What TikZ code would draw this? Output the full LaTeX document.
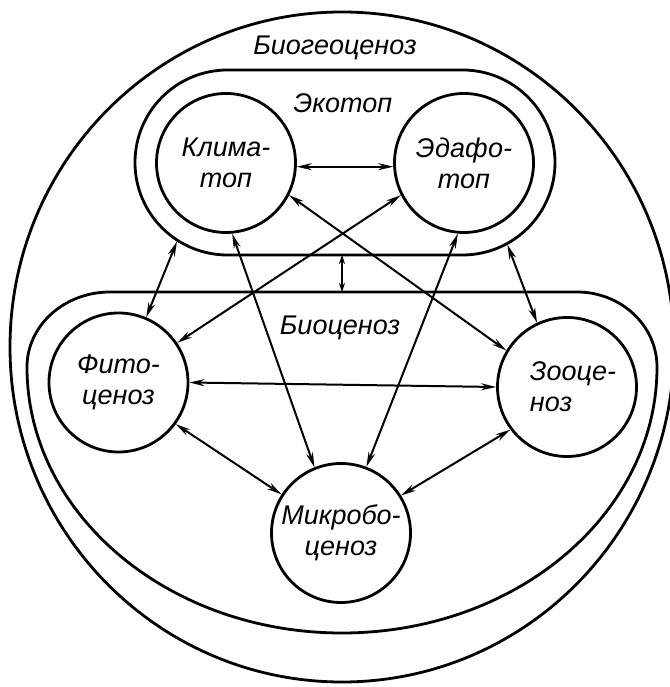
\documentclass[tikz,border=0pt]{standalone}
\usepackage{fontspec}
\setmainfont{Liberation Sans}
\usetikzlibrary{arrows.meta, calc, positioning}

\begin{document}
\begin{tikzpicture}[x=1pt, y=1pt,
    zone/.style={line width=2.8pt},
    part/.style={draw, circle, line width=2.8pt, minimum size=139pt, inner sep=0pt,
        font=\fontsize{27}{31}\selectfont\itshape, align=center},
    lbl/.style={font=\fontsize{27}{31}\selectfont\itshape},
    link/.style={line width=2pt, {Stealth[length=15pt,width=7pt]}-{Stealth[length=15pt,width=7pt]}},
    short link/.style={line width=2pt, {Stealth[length=9pt,width=6pt]}-{Stealth[length=9pt,width=6pt]}}]
    \useasboundingbox (0,0) rectangle (669,687);

    % Biogeocenosis
    \draw[zone] (342,340) ellipse [x radius=332, y radius=335];
    \node[lbl] (bgc) at (335,639) {Биогеоценоз};

    % Ecotope
    \draw[zone, rounded corners=92.5pt] (135,432) rectangle (555,617);
    \node[lbl] (ecot) at (343,584) {Экотоп};

    % Biocenosis
    \draw[zone] (110,395) -- (577,395) arc[start angle=90, end angle=0, x radius=80, y radius=75]
        arc[start angle=0, end angle=-180, x radius=315, y radius=266]
        arc[start angle=180, end angle=90, x radius=83, y radius=75] -- cycle;
    \node[lbl] (bioc) at (340,359) {Биоценоз};

    % Parts
    \node[part] (kl) at (226,524) {Клима-\\топ};
    \node[part] (ed) at (464,524) {Эдафо-\\топ};
    \node[part] (phy) at (118.5,304.5) {Фито-\\ценоз};
    \node[part, align=left] (zoo) at (567,300) {\hspace*{12pt}Зооце-\\\hspace*{12pt}ноз};
    \node[part] (mic) at (341,154) {Микробо-\\ценоз};

    \coordinate (ecoL) at ($(kl)+(238:92.5)$);
    \coordinate (ecoR) at ($(ed)+(-62:92.5)$);
    \coordinate (ecoB) at (342,432);
    \coordinate (bioT) at (342,395);

    % Links
    \draw[link] (kl.-3) -- (ed.-177);
    \draw[link] (kl.-27) -- (zoo.149);
    \draw[link] (ed.-153) -- (phy.34);
    \draw[link] (kl.-85) -- (mic.112);
    \draw[link] (ed.-95) -- (mic.69);
    \draw[link] (phy.east) -- (zoo.west);
    \draw[link] (phy.-36) -- (mic.147);
    \draw[link] (zoo.-143) -- (mic.32);
    \draw[link] (phy.67) -- (ecoL);
    \draw[link] (zoo.115) -- (ecoR);
    \draw[short link] (ecoB) -- (bioT);
\end{tikzpicture}
\end{document}
